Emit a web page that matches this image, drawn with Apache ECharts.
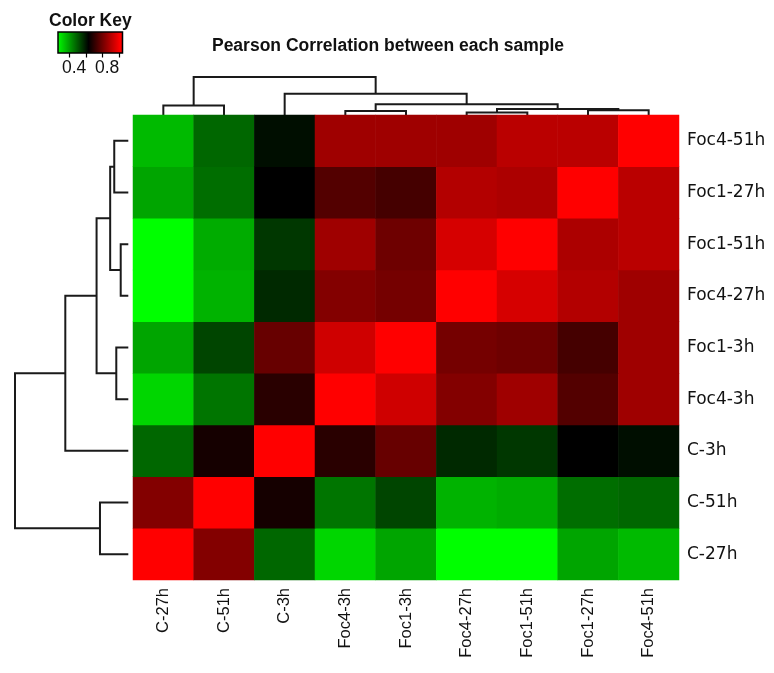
<!DOCTYPE html>
<html><head><meta charset="utf-8">
<script src="https://cdn.jsdelivr.net/npm/echarts@6/dist/echarts.min.js"></script>
<style>html,body{margin:0;padding:0;background:#fff}#c{width:774px;height:673px}</style>
</head><body><div id="c"></div>
<script>
// Sample order (left->right on columns, bottom->top on rows)
const samples = ['C-27h','C-51h','C-3h','Foc4-3h','Foc1-3h','Foc4-27h','Foc1-51h','Foc1-27h','Foc4-51h'];

// Pearson correlations, one row per sample, columns in "samples" order
const corrC27h   = [1.00, 0.82, 0.48, 0.32, 0.39, 0.26, 0.26, 0.39, 0.36];
const corrC51h   = [0.82, 1.00, 0.66, 0.46, 0.53, 0.37, 0.38, 0.47, 0.48];
const corrC3h    = [0.48, 0.66, 1.00, 0.69, 0.78, 0.57, 0.55, 0.63, 0.61];
const corrFoc43h = [0.32, 0.46, 0.69, 1.00, 0.93, 0.82, 0.86, 0.75, 0.86];
const corrFoc13h = [0.39, 0.53, 0.78, 0.93, 1.00, 0.80, 0.79, 0.73, 0.86];
const corrFoc427h= [0.26, 0.37, 0.57, 0.82, 0.80, 1.00, 0.94, 0.89, 0.86];
const corrFoc151h= [0.26, 0.38, 0.55, 0.86, 0.79, 0.94, 1.00, 0.88, 0.90];
const corrFoc127h= [0.39, 0.47, 0.63, 0.75, 0.73, 0.89, 0.88, 1.00, 0.90];
const corrFoc451h= [0.36, 0.48, 0.61, 0.86, 0.86, 0.86, 0.90, 0.90, 1.00];
const corrMatrix = [corrC27h, corrC51h, corrC3h, corrFoc43h, corrFoc13h, corrFoc427h, corrFoc151h, corrFoc127h, corrFoc451h];

// Hierarchical clustering (hclust style: negative = leaf index+1, positive = earlier merge)
const dendroMerges  = [[-6,-7],[-4,-5],[-8,-9],[1,3],[-1,-2],[2,4],[-3,6],[5,7]];
const dendroHeights = [0.067, 0.106, 0.124, 0.16, 0.25, 0.28, 0.556, 1.0];

// Colour key
const colorMin = 0.26, colorMid = 0.63, colorMax = 1.0;
const keyAxisMin = 0.26, keyAxisMax = 1.04;
const keyTicks = [0.4, 0.6, 0.8, 1.0];
const keyLabels = [0.4, 0.8];

function buildDendro() {
  const pos = [], hgt = [], segs = [];
  function node(ref) { return ref < 0 ? {p: -ref - 1, h: 0} : {p: pos[ref - 1], h: hgt[ref - 1]}; }
  dendroMerges.forEach(function (m, k) {
    const a = node(m[0]), b = node(m[1]), h = dendroHeights[k];
    pos.push((a.p + b.p) / 2); hgt.push(h);
    segs.push([[a.p, a.h], [a.p, h], [b.p, h], [b.p, b.h]]);
  });
  return segs;
}
const segs = buildDendro();

const heatData = [];
corrMatrix.forEach(function (row, i) { row.forEach(function (v, j) { heatData.push([j, i, v]); }); });

const FONT = 'Liberation Sans';
const lineStyle = {color: '#1a1a1a', width: 2, opacity: 1, curveness: 0};

const chart = echarts.init(document.getElementById('c'), null, {renderer: 'canvas'});
chart.setOption({
  animation: false,
  backgroundColor: '#fff',
  title: [
    {text: 'Pearson Correlation between each sample', left: 383, top: 32, textAlign: 'center',
     textStyle: {fontFamily: FONT, fontWeight: 'bold', fontSize: 17.5, color: '#111'}},
    {text: 'Color Key', left: 44, top: 7,
     textStyle: {fontFamily: FONT, fontWeight: 'bold', fontSize: 17.5, color: '#111'}}
  ],
  grid: [
    {left: 133, top: 115, width: 546, height: 465},      // heatmap
    {left: 133, top: 77, width: 546, height: 38},        // top dendrogram
    {left: 15, top: 115, width: 113.3, height: 465},     // left dendrogram
    {left: 58, top: 32, width: 64.5, height: 21}         // colour key
  ],
  xAxis: [
    {type: 'category', gridIndex: 0, data: samples, position: 'bottom',
     axisLine: {show: false}, axisTick: {show: false}, splitLine: {show: false},
     axisLabel: {rotate: 90, margin: 8, fontFamily: FONT, fontSize: 16.5, color: '#111', interval: 0}},
    {type: 'value', gridIndex: 1, min: -0.5, max: 8.5, show: false},
    {type: 'value', gridIndex: 2, min: 0, max: 1, inverse: true, show: false},
    {type: 'value', gridIndex: 3, min: keyAxisMin, max: keyAxisMax,
     axisLine: {show: false}, splitLine: {show: false},
     axisTick: {show: true, customValues: keyTicks, length: 4.5, lineStyle: {color: '#000', width: 1.2}},
     axisLabel: {customValues: keyLabels, margin: 6, fontFamily: FONT, fontSize: 17.5, color: '#111',
                 padding: [0, 0, 0, 9], formatter: function (v) { return v.toFixed(1); }}}
  ],
  yAxis: [
    {type: 'category', gridIndex: 0, data: samples, position: 'right',
     axisLine: {show: false}, axisTick: {show: false}, splitLine: {show: false},
     axisLabel: {margin: 8, fontFamily: 'DejaVu Sans', fontSize: 17, color: '#111', interval: 0}},
    {type: 'value', gridIndex: 1, min: 0, max: 1, show: false},
    {type: 'value', gridIndex: 2, min: -0.5, max: 8.5, show: false},
    {type: 'value', gridIndex: 3, min: 0, max: 1, show: false}
  ],
  visualMap: {
    show: false, type: 'continuous', seriesIndex: 0, min: colorMin, max: colorMax,
    inRange: {color: ['#00FF00', '#000000', '#FF0000']}
  },
  series: [
    {type: 'heatmap', xAxisIndex: 0, yAxisIndex: 0, data: heatData, z: 3,
     itemStyle: {borderWidth: 0}, emphasis: {disabled: true}},
    {type: 'lines', coordinateSystem: 'cartesian2d', xAxisIndex: 1, yAxisIndex: 1, polyline: true, z: 2,
     silent: true, lineStyle: lineStyle,
     data: segs.map(function (s) { return {coords: s}; })},
    {type: 'lines', coordinateSystem: 'cartesian2d', xAxisIndex: 2, yAxisIndex: 2, polyline: true, z: 2,
     silent: true, lineStyle: lineStyle,
     data: segs.map(function (s) { return {coords: s.map(function (p) { return [p[1], p[0]]; })}; })},
    {type: 'custom', xAxisIndex: 3, yAxisIndex: 3, silent: true, data: [[keyAxisMin, 0]],
     renderItem: function (params, api) {
       const p0 = api.coord([keyAxisMin, 0]), p1 = api.coord([keyAxisMax, 1]);
       const span = keyAxisMax - keyAxisMin;
       return {type: 'rect',
         shape: {x: p0[0], y: p1[1], width: p1[0] - p0[0], height: p0[1] - p1[1]},
         style: {fill: new echarts.graphic.LinearGradient(0, 0, 1, 0, [
           {offset: 0, color: '#00FF00'},
           {offset: (colorMid - keyAxisMin) / span, color: '#000000'},
           {offset: (colorMax - keyAxisMin) / span, color: '#FF0000'},
           {offset: 1, color: '#FF0000'}]), stroke: '#000', lineWidth: 1.5}};
     }}
  ]
});
</script></body></html>
